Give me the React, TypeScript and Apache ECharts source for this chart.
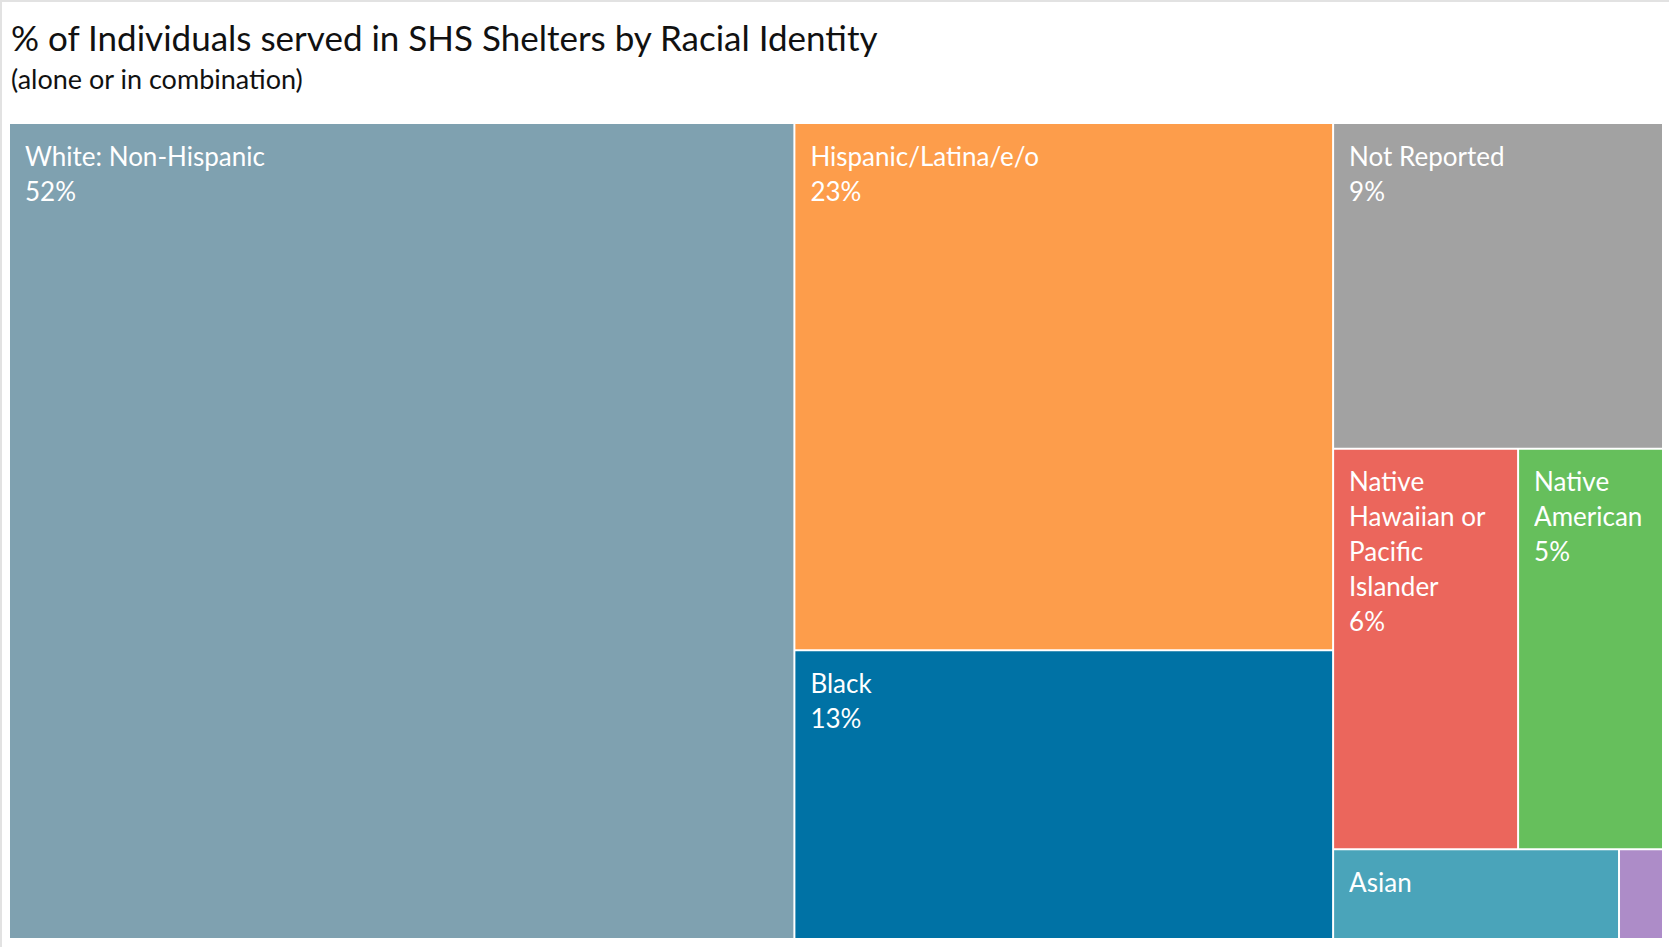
import React, { useEffect, useRef } from "react";
import * as echarts from "echarts";

const titleText = "% of Individuals served in SHS Shelters by Racial Identity";
const subtitleText = "(alone or in combination)";

const categories = [
  "White: Non-Hispanic",
  "Hispanic/Latina/e/o",
  "Black",
  "Not Reported",
  "Native Hawaiian or Pacific Islander",
  "Native American",
  "Asian",
  "Middle Eastern or North African",
];
const displayLabels = [
  "White: Non-Hispanic",
  "Hispanic/Latina/e/o",
  "Black",
  "Not Reported",
  "Native\nHawaiian or\nPacific\nIslander",
  "Native\nAmerican",
  "Asian",
  "",
];
const values = [51.9, 23.0, 12.6, 8.7, 6.0, 4.7, 2.08, 0.32];
const showPercent = [true, true, true, true, true, true, false, false];
const colors = [
  "#7fa1b0",
  "#fd9d4b",
  "#0072a5",
  "#a2a2a2",
  "#eb665c",
  "#66bf5c",
  "#4aa4ba",
  "#ad8cc8",
];

const FONT = "Lato, 'Open Sans', sans-serif";

export default function App() {
  const ref = useRef<HTMLDivElement>(null);
  useEffect(() => {
    document.body.style.margin = "0";
    if (!ref.current) return;
    const chart = echarts.init(ref.current, null, { renderer: "svg" });
    chart.setOption({
      animation: false,
      backgroundColor: "#ffffff",
      title: {
        text: titleText,
        subtext: subtitleText,
        left: 6,
        top: 14,
        itemGap: 11,
        textStyle: { fontSize: 35, fontWeight: "normal", color: "#111111", fontFamily: FONT },
        subtextStyle: { fontSize: 27, color: "#111111", fontFamily: FONT },
      },
      graphic: [
        { type: "rect", shape: { x: 0, y: 0, width: 1669, height: 2 }, style: { fill: "#e2e2e2" }, silent: true },
        { type: "rect", shape: { x: 0, y: 0, width: 2, height: 947 }, style: { fill: "#e2e2e2" }, silent: true },
      ],
      series: [
        {
          type: "treemap",
          left: 10,
          top: 124,
          right: 7,
          bottom: 9,
          roam: false,
          nodeClick: false,
          breadcrumb: { show: false },
          itemStyle: { gapWidth: 2, borderWidth: 0, borderColor: "#ffffff" },
          levels: [{ itemStyle: { gapWidth: 2, borderWidth: 0, borderColor: "#ffffff" } }],
          emphasis: { disabled: true },
          label: {
            show: true,
            position: [10, 9],
            color: "#ffffff",
            fontSize: 26,
            lineHeight: 35,
            fontFamily: FONT,
            overflow: "none",
            formatter: (p: any) => {
              const i = categories.indexOf(p.name);
              if (i < 0) return "";
              return displayLabels[i] + (showPercent[i] ? "\n" + Math.round(p.value) + "%" : "");
            },
          },
          data: categories.map((name, i) => ({
            name,
            value: values[i],
            itemStyle: { color: colors[i] },
            label: { show: displayLabels[i] !== "" },
          })),
        },
      ],
    });
    return () => chart.dispose();
  }, []);
  return <div ref={ref} style={{ width: 1669, height: 947 }} />;
}
